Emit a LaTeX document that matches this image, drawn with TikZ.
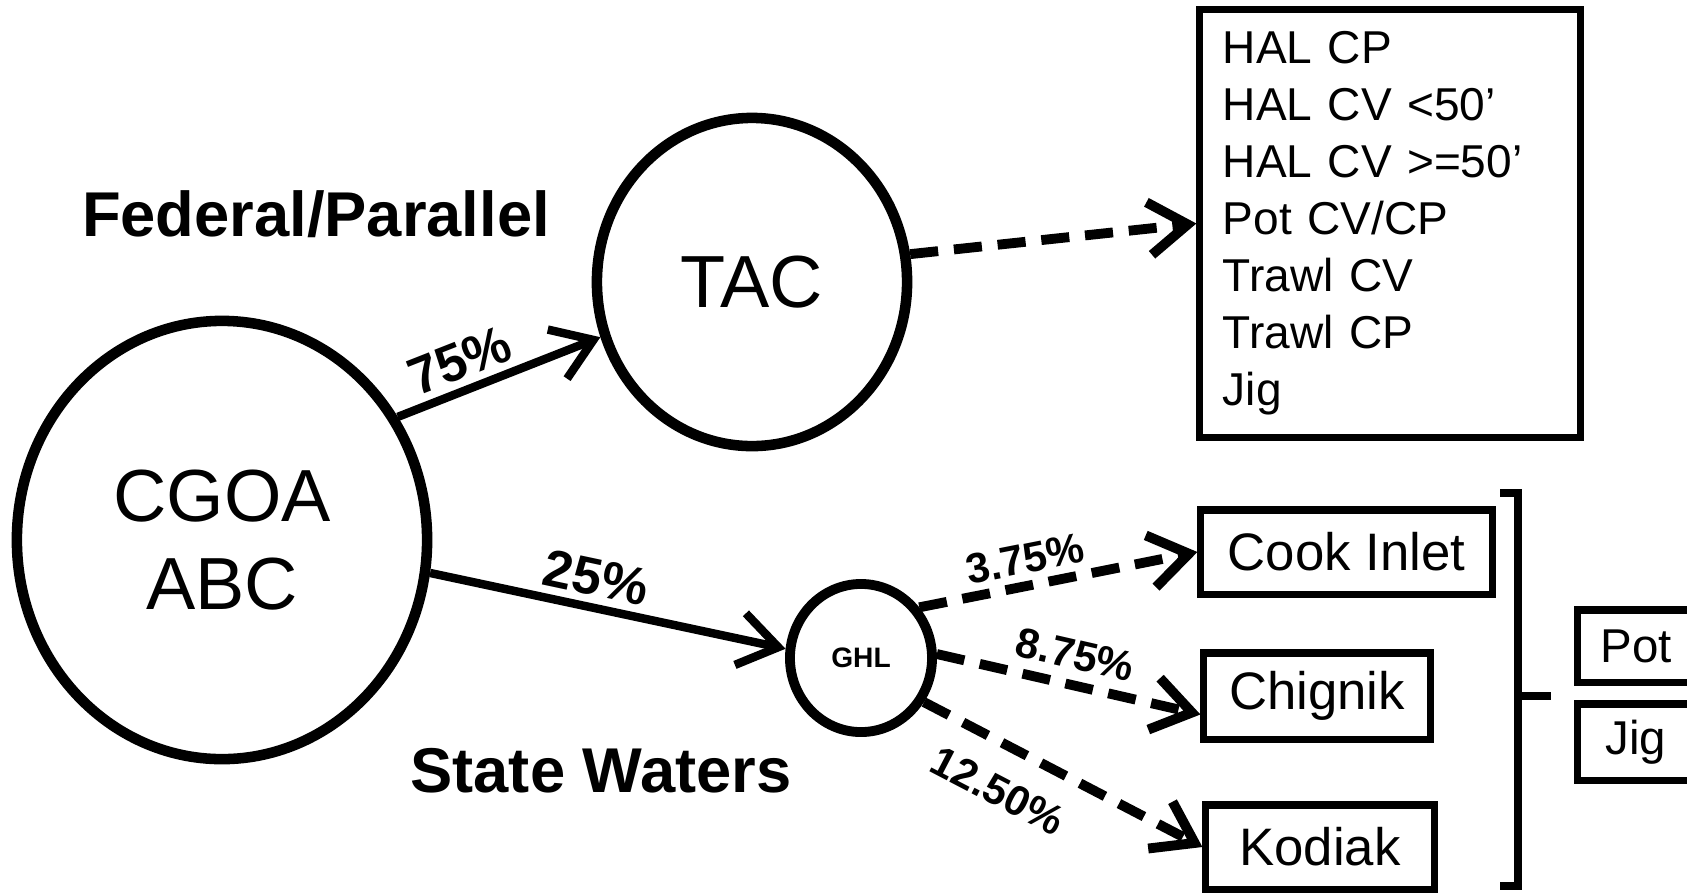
\documentclass[tikz,border=0pt]{standalone}
\usepackage{fontspec}
\setmainfont{Liberation Sans}
\usetikzlibrary{arrows.meta,shapes.geometric}
\tikzset{pool/.style={draw, ellipse, line width=3pt, inner sep=0pt},
         gearbox/.style={draw, rectangle, line width=2pt, inner sep=0pt},
         flow/.style={line width=2.4pt, -{Straight Barb[length=11pt,width=15pt]}},
         split/.style={flow, line width=2.8pt, dash pattern=on 8pt off 4.5pt},
         pct/.style={font=\bfseries\fontsize{15}{17}\selectfont, sloped, inner sep=2pt},
         pctsmall/.style={pct, font=\bfseries\fontsize{12}{14}\selectfont}}

\begin{document}
\begin{tikzpicture}[x=0.01cm,y=-0.01cm]
   \useasboundingbox (0,0) rectangle (1687,893);
   \clip (0,0) rectangle (1687,893);

   \node[pool, minimum width=4.1cm, minimum height=4.38cm, align=center,
         font=\fontsize{21}{25}\selectfont] (cgoa) at (222,540) {CGOA\\ABC};
   \node[pool, minimum width=3.1cm, minimum height=3.28cm,
         font=\fontsize{21}{25}\selectfont] (tac) at (752,282) {TAC};
   \node[pool, line width=2.8pt, minimum width=1.42cm, minimum height=1.48cm,
         font=\bfseries\fontsize{8}{10}\selectfont] (ghl) at (861,658) {GHL};

   \node[font=\bfseries\fontsize{18}{20}\selectfont] (fed)   at (316,214) {Federal/Parallel};
   \node[font=\bfseries\fontsize{18}{20}\selectfont] (state) at (601,771) {State Waters};

   \node[gearbox, minimum width=3.8cm, minimum height=4.27cm, text width=3.34cm, align=left,
         font=\fontsize{13.1}{16.2}\selectfont] (hal) at (1390,223.5)
        {HAL CP\\HAL CV <50’\\HAL CV >=50’\\Pot CV/CP\\Trawl CV\\Trawl CP\\Jig};
   \node[gearbox, minimum width=2.91cm, minimum height=0.84cm,
         font=\fontsize{15}{18}\selectfont] (cook) at (1346.5,552) {Cook Inlet};
   \node[gearbox, minimum width=2.26cm, minimum height=0.86cm,
         font=\fontsize{15}{18}\selectfont] (chig) at (1317,696) {Chignik};
   \node[gearbox, minimum width=2.28cm, minimum height=0.84cm,
         font=\fontsize{15}{18}\selectfont] (kod) at (1320,847) {Kodiak};
   \node[gearbox, minimum width=1.16cm, minimum height=0.72cm,
         font=\fontsize{13.5}{16}\selectfont] (pot) at (1636,646) {Pot};
   \node[gearbox, minimum width=1.16cm, minimum height=0.76cm,
         font=\fontsize{13.5}{16}\selectfont] (jig) at (1636,742) {Jig};

   \draw[flow]  (cgoa.35) -- node[pct, pos=0.36, above] {75\%} (tac.200);
   \draw[flow]  (cgoa.-9) -- node[pct, pos=0.45, above] {25\%} (ghl.173);
   \draw[split] (tac.10)  -- (hal.west);
   \draw[split] (ghl.41)  -- node[pctsmall, pos=0.4, above] {3.75\%} (cook.west);
   \draw[split] (ghl.3)   -- node[pctsmall, pos=0.5, above=1pt] {8.75\%} (chig.189);
   \draw[split] (ghl.-35) -- node[pctsmall, pos=0.34, below=5pt] {12.50\%} (kod.west);

   \draw[line width=2.3pt] (1500,493) -- (1518,493) -- (1518,886) -- (1500,886);
   \draw[line width=2.3pt] (1518,696) -- (1551,696);
\end{tikzpicture}
\end{document}
